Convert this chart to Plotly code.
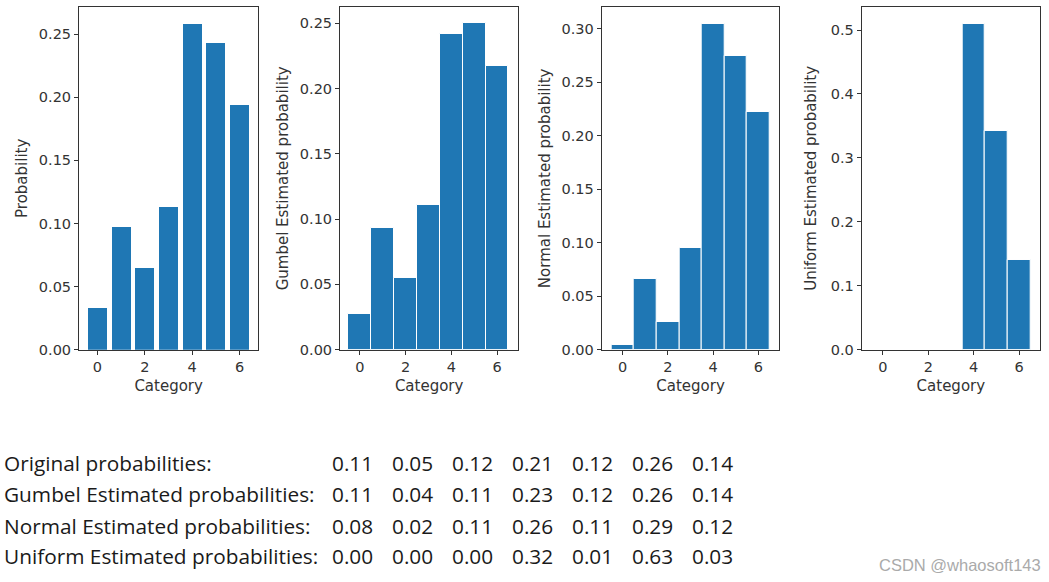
import plotly.graph_objects as go

W, H = 1049, 582
K = 1.013  # vertical compensation for the capture

categories = [0, 1, 2, 3, 4, 5, 6]
original_bar = [0.033, 0.097, 0.065, 0.113, 0.258, 0.243, 0.194]
gumbel_bar = [0.0276, 0.093, 0.055, 0.111, 0.242, 0.250, 0.217]
normal_bar = [0.004, 0.066, 0.026, 0.095, 0.305, 0.275, 0.222]
uniform_bar = [0.0, 0.0, 0.0, 0.0, 0.510, 0.342, 0.141]

y_titles = ["Probability", "Gumbel Estimated probability",
            "Normal Estimated probability", "Uniform Estimated probability"]
x_title = "Category"

row_labels = ["Original probabilities:", "Gumbel Estimated probabilities:",
              "Normal Estimated probabilities:", "Uniform Estimated probabilities:"]
row_values = [
    ["0.11", "0.05", "0.12", "0.21", "0.12", "0.26", "0.14"],
    ["0.11", "0.04", "0.11", "0.23", "0.12", "0.26", "0.14"],
    ["0.08", "0.02", "0.11", "0.26", "0.11", "0.29", "0.12"],
    ["0.00", "0.00", "0.00", "0.32", "0.01", "0.63", "0.03"],
]
watermark = "CSDN @whaosoft143"

series = [original_bar, gumbel_bar, normal_bar, uniform_bar]
bar_widths = [0.8, 1.0, 1.0, 1.0]
edge_widths = [0, 1, 1, 1]
# pixel geometry of each axes box: left, right, top, bottom
boxes = [(79, 258.3, 7, 350), (340, 518.3, 7, 350),
         (601.7, 779.3, 7, 350), (861.7, 1040, 7, 350)]
xranges = [[-0.78, 6.79], [-0.87, 6.93], [-0.93, 6.93], [-0.93, 6.92]]
yranges = [[0, 0.2715], [0, 0.2625], [0, 0.3205], [0, 0.536]]
ytickvals = [[0, 0.05, 0.10, 0.15, 0.20, 0.25],
             [0, 0.05, 0.10, 0.15, 0.20, 0.25],
             [0, 0.05, 0.10, 0.15, 0.20, 0.25, 0.30],
             [0, 0.1, 0.2, 0.3, 0.4, 0.5]]
yfmt = [".2f", ".2f", ".2f", ".1f"]
standoffs = [7, 7, 7, 10]


def py(y):
    return 1 - (y * K) / H


fig = go.Figure()
axcol = "#333333"
tickfont = dict(family="DejaVu Sans", size=14.5, color="#333333")
titlefont = dict(family="DejaVu Sans", size=15, color="#333333")

for i, vals in enumerate(series):
    sfx = "" if i == 0 else str(i + 1)
    fig.add_trace(go.Bar(
        x=categories, y=vals, width=bar_widths[i],
        marker=dict(color="#1f77b4",
                    line=dict(color="white", width=edge_widths[i])),
        xaxis="x" + sfx, yaxis="y" + sfx, showlegend=False,
    ))
    l, r, t, b = boxes[i]
    common = dict(showline=True, mirror=True, linecolor=axcol, linewidth=1,
                  ticks="outside", ticklen=4, tickwidth=1, tickcolor=axcol,
                  showgrid=False, zeroline=False, tickfont=tickfont)
    fig.update_layout(**{
        "xaxis" + sfx: dict(domain=[l / W, r / W], range=xranges[i],
                            tickvals=[0, 2, 4, 6], anchor="y" + sfx,
                            ticklabelstandoff=0,
                            title=dict(text=x_title, font=titlefont, standoff=6),
                            **common),
        "yaxis" + sfx: dict(domain=[py(b), py(t)], range=yranges[i],
                            tickvals=ytickvals[i], tickformat=yfmt[i],
                            anchor="x" + sfx,
                            title=dict(text=y_titles[i], font=titlefont,
                                       standoff=standoffs[i]),
                            **common),
    })

row_y = [463, 494, 526, 557]
col_x = [352, 412, 472, 532, 592, 652, 712]
tfont = dict(family="Open Sans", size=20.8, color="#1a1a1a")
for ri, lab in enumerate(row_labels):
    fig.add_annotation(x=2 / W, y=py(row_y[ri]), xref="paper", yref="paper",
                       text=lab, showarrow=False, xanchor="left", yanchor="middle",
                       font=tfont)
    for ci, v in enumerate(row_values[ri]):
        fig.add_annotation(x=col_x[ci] / W, y=py(row_y[ri]), xref="paper",
                           yref="paper", text=v, showarrow=False,
                           xanchor="center", yanchor="middle", font=tfont)

fig.add_annotation(x=1043 / W, y=py(566), xref="paper", yref="paper",
                   text=watermark, showarrow=False, xanchor="right",
                   yanchor="middle",
                   font=dict(family="Liberation Sans", size=16.5, color="#aaaaaa"))

fig.update_layout(width=W, height=H, margin=dict(l=0, r=0, t=0, b=0),
                  plot_bgcolor="white", paper_bgcolor="white", bargap=0)

post = ("document.documentElement.style.overflow='hidden';"
        "document.documentElement.style.margin='0';"
        "document.body.style.margin='0';"
        "document.body.style.padding='0';"
        "document.body.style.overflow='hidden';"
        "document.body.style.height='582px';"
        "var d=document.getElementById('{plot_id}');"
        "if(d){d.style.display='block';d.style.position='absolute';"
        "d.style.left='0';d.style.top='0';}")

fig.write_html("out.html", config={"displayModeBar": False}, post_script=post)
